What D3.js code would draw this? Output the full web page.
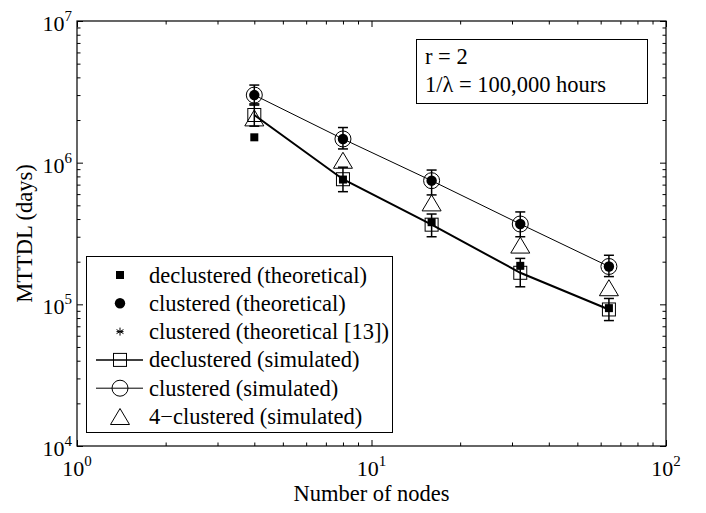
<!DOCTYPE html>
<html>
<head>
<meta charset="utf-8">
<script src="https://cdn.jsdelivr.net/npm/d3@7"></script>
<style>
  body { margin: 0; background: #fff; }
  svg text { font-family: "Liberation Serif", "Times New Roman", serif; fill: #000; }
</style>
</head>
<body>
<script>
// data
var nodes = [4, 8, 16, 32, 64];
var declTheo = [1.51e6, 7.6e5, 3.8e5, 1.87e5, 9.4e4];
var clusTheo = [3.0e6, 1.47e6, 7.46e5, 3.69e5, 1.85e5];
var clusTheo13 = [3.0e6, 1.47e6, 7.46e5, 3.69e5, 1.85e5];
var declSim = [2.17e6, 7.64e5, 3.65e5, 1.67e5, 9.2e4];
var declSimLo = [1.81e6, 6.24e5, 3.0e5, 1.33e5, 7.68e4];
var declSimHi = [2.6e6, 9.29e5, 4.34e5, 2.11e5, 1.10e5];
var clusSim = [3.0e6, 1.47e6, 7.46e5, 3.69e5, 1.85e5];
var clusSimLo = [2.55e6, 1.25e6, 5.92e5, 3.0e5, 1.57e5];
var clusSimHi = [3.53e6, 1.77e6, 8.87e5, 4.49e5, 2.22e5];
var fourSim = [2.07e6, 1.04e6, 5.2e5, 2.62e5, 1.31e5];

var xMajor = [1, 10, 100];
var yMajor = [1e4, 1e5, 1e6, 1e7];
var legendLabels = ["declustered (theoretical)", "clustered (theoretical)",
  "clustered (theoretical [13])", "declustered (simulated)",
  "clustered (simulated)", "4\u2212clustered (simulated)"];
var noteLines = ["r = 2", "1/\u03bb = 100,000 hours"];

var width = 706, height = 513;
var margin = {left: 77, top: 21, right: 40, bottom: 67};
var fs = "22.5px";

var svg = d3.select("body").append("svg")
  .attr("width", width)
  .attr("height", height);

var x = d3.scaleLog().domain([1, 100]).range([margin.left, width - margin.right]);
var y = d3.scaleLog().domain([1e4, 1e7]).range([height - margin.bottom, margin.top]);

function minorTicks(lo, hi) {
  var out = [];
  for (var d = lo; d < hi; d *= 10)
    for (var k = 2; k <= 9; k++) out.push(d * k);
  return out;
}

/* ticks on all four sides, pointing inward */
var x0 = x.range()[0], x1 = x.range()[1], y0 = y.range()[0], y1 = y.range()[1];
var axes = [
  [d3.axisBottom(x), "translate(0," + y0 + ")"],
  [d3.axisTop(x), "translate(0," + y1 + ")"],
  [d3.axisLeft(y), "translate(" + x0 + ",0)"],
  [d3.axisRight(y), "translate(" + x1 + ",0)"]
];
axes.forEach(function(a, i) {
  var isX = i < 2;
  var maj = isX ? xMajor : yMajor;
  var mnr = isX ? minorTicks(1, 100) : minorTicks(1e4, 1e7);
  var gMaj = svg.append("g").attr("transform", a[1])
    .call(a[0].tickValues(maj).tickSize(-6).tickFormat(""));
  var gMin = svg.append("g").attr("transform", a[1])
    .call(a[0].tickValues(mnr).tickSize(-3.5).tickFormat(""));
  [gMaj, gMin].forEach(function(g) {
    g.select(".domain").remove();
    g.selectAll("line").attr("stroke", "#000").attr("stroke-width", 1);
  });
});

svg.append("rect")
  .attr("x", x0).attr("y", y1)
  .attr("width", x1 - x0).attr("height", y0 - y1)
  .attr("fill", "none").attr("stroke", "#000").attr("stroke-width", 1.2);

// tick labels as 10^n
svg.append("g").selectAll("text").data(xMajor).enter().append("text")
  .attr("x", function(d) { return x(d); })
  .attr("y", y0 + 30)
  .attr("text-anchor", "middle")
  .style("font-size", "22px")
  .each(function(d) {
    var t = d3.select(this);
    t.append("tspan").text("10");
    t.append("tspan").attr("dy", -10).style("font-size", "15px").text(Math.round(Math.log10(d)));
  });

svg.append("g").selectAll("text").data(yMajor).enter().append("text")
  .attr("x", x0 - 5)
  .attr("y", function(d) { return y(d) + 10; })
  .attr("text-anchor", "end")
  .style("font-size", "22px")
  .each(function(d) {
    var t = d3.select(this);
    t.append("tspan").text("10");
    t.append("tspan").attr("dy", -10).style("font-size", "15px").text(Math.round(Math.log10(d)));
  });

svg.append("text")
  .attr("x", (x0 + x1) / 2).attr("y", 501)
  .attr("text-anchor", "middle")
  .style("font-size", fs)
  .text("Number of nodes");

svg.append("text")
  .attr("transform", "translate(31.5," + ((y0 + y1) / 2) + ") rotate(-90)")
  .attr("text-anchor", "middle")
  .style("font-size", fs)
  .text("MTTDL (days)");

/* lines */
var line = d3.line().x(function(d) { return x(d[0]); }).y(function(d) { return y(d[1]); });
svg.append("path").datum(d3.zip(nodes, declSim))
  .attr("d", line).attr("fill", "none").attr("stroke", "#000").attr("stroke-width", 2);
svg.append("path").datum(d3.zip(nodes, clusSim))
  .attr("d", line).attr("fill", "none").attr("stroke", "#000").attr("stroke-width", 1);

/* error bars */
function errorBars(lo, hi) {
  var g = svg.append("g").attr("stroke", "#000").attr("stroke-width", 1.5);
  nodes.forEach(function(n, i) {
    var cx = x(n);
    g.append("line").attr("x1", cx).attr("x2", cx).attr("y1", y(lo[i])).attr("y2", y(hi[i]));
    g.append("line").attr("x1", cx - 5).attr("x2", cx + 5).attr("y1", y(lo[i])).attr("y2", y(lo[i]));
    g.append("line").attr("x1", cx - 5).attr("x2", cx + 5).attr("y1", y(hi[i])).attr("y2", y(hi[i]));
  });
}
errorBars(declSimLo, declSimHi);
errorBars(clusSimLo, clusSimHi);

/* marker drawing helpers */
function drawMarker(g, kind, cx, cy) {
  if (kind === "fsq") {
    g.append("rect").attr("x", cx - 4).attr("y", cy - 4).attr("width", 8).attr("height", 8).attr("fill", "#000");
  } else if (kind === "fci") {
    g.append("circle").attr("cx", cx).attr("cy", cy).attr("r", 5.2).attr("fill", "#000");
  } else if (kind === "ast") {
    var r = 4;
    [0, 60, 120].forEach(function(a) {
      var dx = r * Math.sin(a * Math.PI / 180), dy = r * Math.cos(a * Math.PI / 180);
      g.append("line").attr("x1", cx - dx).attr("y1", cy - dy).attr("x2", cx + dx).attr("y2", cy + dy)
        .attr("stroke", "#000").attr("stroke-width", 1);
    });
    g.append("line").attr("x1", cx - 3.5).attr("y1", cy).attr("x2", cx + 3.5).attr("y2", cy)
      .attr("stroke", "#000").attr("stroke-width", 1);
  } else if (kind === "osq") {
    g.append("rect").attr("x", cx - 6.5).attr("y", cy - 6.5).attr("width", 13).attr("height", 13)
      .attr("fill", "none").attr("stroke", "#000").attr("stroke-width", 1);
  } else if (kind === "oci") {
    g.append("circle").attr("cx", cx).attr("cy", cy).attr("r", 8)
      .attr("fill", "none").attr("stroke", "#000").attr("stroke-width", 1);
  } else if (kind === "tri") {
    g.append("path").attr("d", "M" + cx + "," + (cy - 8) + "L" + (cx + 9.5) + "," + (cy + 8) +
      "L" + (cx - 9.5) + "," + (cy + 8) + "Z")
      .attr("fill", "none").attr("stroke", "#000").attr("stroke-width", 1);
  }
}

var series = [
  [fourSim, "tri"], [declSim, "osq"], [clusSim, "oci"],
  [clusTheo13, "ast"], [declTheo, "fsq"], [clusTheo, "fci"]
];
series.forEach(function(s) {
  var g = svg.append("g");
  nodes.forEach(function(n, i) { drawMarker(g, s[1], x(n), y(s[0][i])); });
});

/* legend */
var leg = svg.append("g");
leg.append("rect").attr("x", 86.5).attr("y", 256.5).attr("width", 306).attr("height", 176)
  .attr("fill", "#fff").attr("stroke", "#000").attr("stroke-width", 1);
var legKinds = ["fsq", "fci", "ast", "osq", "oci", "tri"];
legendLabels.forEach(function(label, i) {
  var cy = 275 + i * 28.3;
  var g = leg.append("g");
  if (i === 3 || i === 4) {
    g.append("line").attr("x1", 96).attr("x2", 143).attr("y1", cy).attr("y2", cy)
      .attr("stroke", "#000").attr("stroke-width", i === 3 ? 1.5 : 1);
  }
  drawMarker(g, legKinds[i], 120, cy);
  leg.append("text").attr("x", 149).attr("y", cy + 7.5)
    .style("font-size", fs).text(label);
});

/* annotation box */
var note = svg.append("g");
note.append("rect").attr("x", 416.5).attr("y", 39.5).attr("width", 231).attr("height", 64)
  .attr("fill", "#fff").attr("stroke", "#000").attr("stroke-width", 1);
noteLines.forEach(function(t, i) {
  note.append("text").attr("x", 425).attr("y", 64 + i * 28)
    .style("font-size", fs).text(t);
});
</script>
</body>
</html>
